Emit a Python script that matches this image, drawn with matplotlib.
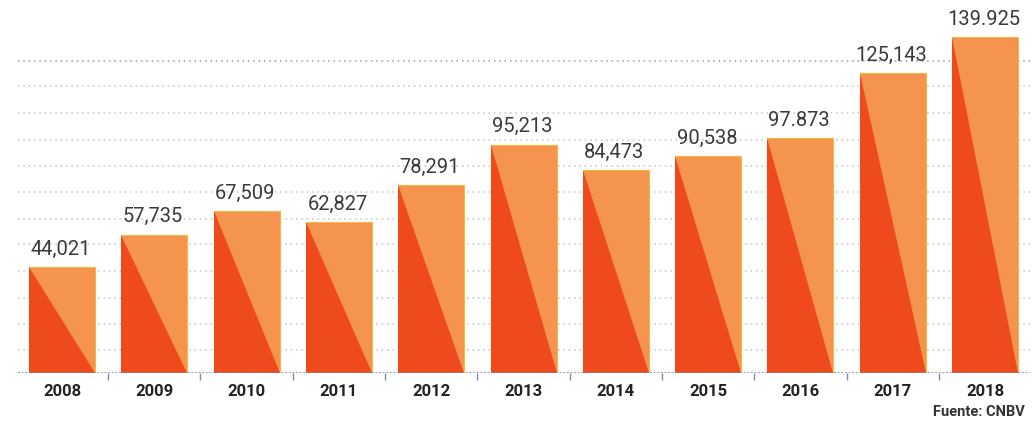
import numpy as np
import matplotlib.pyplot as plt
from matplotlib.patches import Polygon

years = ['2008', '2009', '2010', '2011', '2012', '2013', '2014', '2015', '2016', '2017', '2018']
values = [44021, 57735, 67509, 62827, 78291, 95213, 84473, 90538, 97873, 125143, 139925]
labels = ['44,021', '57,735', '67,509', '62,827', '78,291', '95,213', '84,473', '90,538', '97.873', '125,143', '139.925']
# decorative dotted guide lines (same units as values)
grid_levels = [9500, 20600, 31300, 42400, 53600, 64300, 75400, 86500, 97200, 108400, 119500, 130200]

light = '#F4944E'
dark = '#EE4A1E'
edge = '#F6B83C'
plt.rcParams['font.family'] = ['Roboto', 'DejaVu Sans']

fig = plt.figure(figsize=(10.33, 4.23), dpi=100)
ax = fig.add_axes([18/1033, 50/423, 1012/1033, 373/423])

x = np.arange(len(years))
w = 0.715

for g in grid_levels:
    c = '#9a9a9a' if g == grid_levels[-1] else '#c4c4c4'
    ax.axhline(g, color=c, lw=1.1, ls=(0, (1, 2.5)), zorder=0)

ax.bar(x, values, width=w, color=light, edgecolor=edge, linewidth=0.8, zorder=2)
for i, v in enumerate(values):
    tri = Polygon([(i - w/2, v), (i - w/2, 0), (i + w/2, 0)], closed=True,
                  facecolor=dark, edgecolor='none', zorder=3)
    ax.add_patch(tri)
    ax.annotate(labels[i], (i, v), xytext=(-1, 6), textcoords='offset points',
                ha='center', va='bottom', fontsize=14.5, color='#3a3a3a')

ax.axhline(0, color='#7f8fa6', lw=1.3, ls=(0, (1, 1)), zorder=4)

ax.set_xlim(-0.477, 10.487)
ax.set_ylim(0, 155500)
ax.set_yticks([])
ax.set_xticks(x)
ax.set_xticklabels(years, fontsize=12, fontweight='bold', color='#222222')
ax.set_xticks(x[:-1] + 0.5, minor=True)
ax.tick_params(axis='x', which='major', length=0, pad=8)
ax.tick_params(axis='x', which='minor', length=5, color='#7f8fa6', width=1)
for s in ax.spines.values():
    s.set_visible(False)

fig.text(1025/1033, 1 - 412/423, 'Fuente: CNBV', ha='right', va='center',
         fontsize=10.5, fontweight='bold', color='#333333')

fig.savefig('out.png', dpi=100)
